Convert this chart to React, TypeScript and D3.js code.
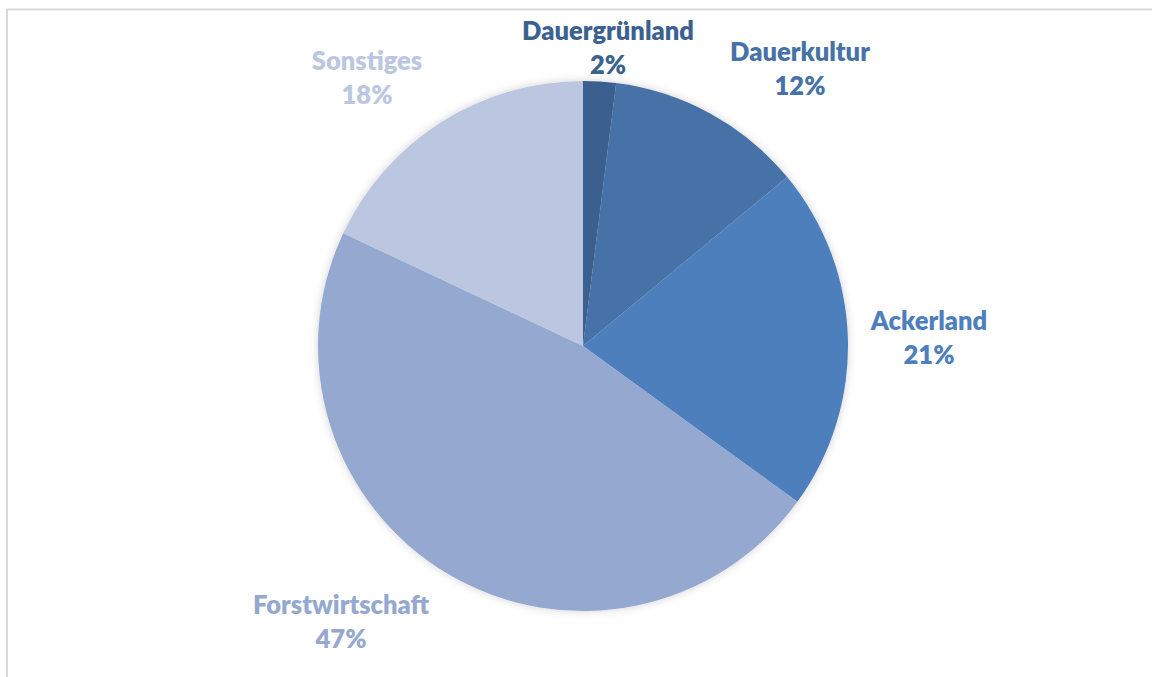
import React from "react";
import * as d3 from "d3";

const categories = ["Dauergrünland", "Dauerkultur", "Ackerland", "Forstwirtschaft", "Sonstiges"];
const values = [2, 12, 21, 47, 18];
const colors = ["#3A6190", "#4672A8", "#4E7FBD", "#95A9D0", "#BBC7E0"];
const labelPos: [number, number][] = [
  [608, 31],
  [800, 52],
  [929, 321],
  [341, 605],
  [367, 61],
];

export default function App() {
  const W = 1152, H = 677;
  const cx = 583, cy = 346, r = 265;
  const pie = d3.pie<number>().sort(null).value((d) => d)(values);
  const arc = d3.arc<d3.PieArcDatum<number>>().innerRadius(0).outerRadius(r);
  const total = d3.sum(values);
  return (
    <svg width={W} height={H} style={{ position: "absolute", left: 0, top: 0 }}>
      <defs>
        <filter id="sh" x="-20%" y="-20%" width="140%" height="140%">
          <feDropShadow dx="0" dy="0" stdDeviation="4" floodColor="#000" floodOpacity="0.18" />
        </filter>
      </defs>
      <rect x={0} y={0} width={W} height={H} fill="#fff" />
      <line x1={7} y1={9.5} x2={W} y2={9.5} stroke="#d9d9d9" strokeWidth={2} />
      <line x1={7} y1={9} x2={7} y2={H} stroke="#d9d9d9" strokeWidth={2} />
      <g transform={`translate(${cx},${cy})`} filter="url(#sh)">
        {pie.map((p, i) => (
          <path key={i} d={arc(p) || ""} fill={colors[i]} />
        ))}
      </g>
      {categories.map((c, i) => (
        <text
          key={c}
          x={labelPos[i][0]}
          y={labelPos[i][1]}
          textAnchor="middle"
          fill={colors[i]}
          fontFamily="Lato, 'Noto Sans', sans-serif"
          fontWeight={800}
          fontSize={25.5}
        >
          <tspan x={labelPos[i][0]} dy="0.35em">{c}</tspan>
          <tspan x={labelPos[i][0]} dy="1.33em">{Math.round((values[i] / total) * 100)}%</tspan>
        </text>
      ))}
    </svg>
  );
}
